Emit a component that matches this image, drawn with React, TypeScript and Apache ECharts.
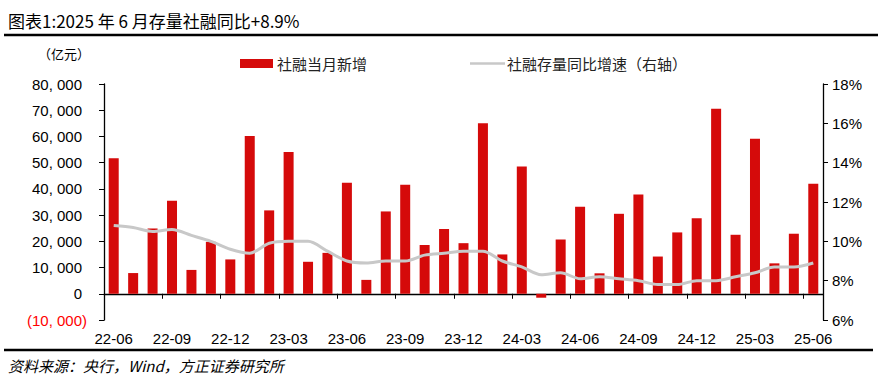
import React, { useEffect, useRef } from "react";
import * as echarts from "echarts";

const categories = [
  "22-06", "22-07", "22-08", "22-09", "22-10", "22-11", "22-12",
  "23-01", "23-02", "23-03", "23-04", "23-05", "23-06", "23-07", "23-08", "23-09", "23-10", "23-11", "23-12",
  "24-01", "24-02", "24-03", "24-04", "24-05", "24-06", "24-07", "24-08", "24-09", "24-10", "24-11", "24-12",
  "25-01", "25-02", "25-03", "25-04", "25-05", "25-06",
];

const monthlyNew = [
  51700, 7900, 24900, 35500, 9100, 19800, 13100,
  60200, 31800, 54100, 12200, 15600, 42300, 5300, 31400, 41600, 18600, 24700, 19300,
  65000, 15000, 48500, -1500, 20700, 33200, 7800, 30500, 37900, 14200, 23400, 28800,
  70600, 22500, 59100, 11600, 22900, 42000,
];

const stockYoY = [
  10.8, 10.7, 10.5, 10.6, 10.3, 10.0, 9.6,
  9.4, 9.9, 10.0, 10.0, 9.5, 9.0, 8.9, 9.0, 9.0, 9.3, 9.4, 9.5,
  9.5, 9.0, 8.7, 8.3, 8.4, 8.1, 8.2, 8.1, 8.0, 7.8, 7.8, 8.0,
  8.0, 8.2, 8.4, 8.7, 8.7, 8.9,
];

const titleText = "图表1:2025 年 6 月存量社融同比+8.9%";
const unitText = "（亿元）";
const barName = "社融当月新增";
const lineName = "社融存量同比增速（右轴）";
const sourceText = "资料来源：央行，Wind，方正证券研究所";

const RED = "#D50A0A";
const GRAY = "#C8C8C8";
const CJK = "'Noto Sans CJK SC', sans-serif";
const LAT = "'Liberation Sans', Arial, sans-serif";

function fmtThousands(v: number): string {
  const s = String(Math.round(v));
  return s.replace(/\B(?=(\d{3})+(?!\d))/g, ", ");
}

export default function App() {
  const ref = useRef<HTMLDivElement>(null);
  useEffect(() => {
    if (!ref.current) return;
    const chart = echarts.init(ref.current, undefined, { renderer: "svg" });
    chart.setOption({
      animation: false,
      backgroundColor: "#ffffff",
      grid: { left: 104, right: 59, top: 84, bottom: 60, containLabel: false },
      xAxis: {
        type: "category",
        data: categories,
        boundaryGap: true,
        axisLine: { onZero: true, lineStyle: { color: "#000", width: 1.3 } },
        axisTick: { show: true, interval: 2, length: 5, lineStyle: { color: "#000" } },
        axisLabel: {
          interval: 2,
          margin: 11,
          color: "#000",
          fontFamily: LAT,
          fontSize: 15,
        },
        splitLine: { show: false },
      },
      yAxis: [
        {
          type: "value",
          min: -10000,
          max: 80000,
          interval: 10000,
          axisLine: { show: true, lineStyle: { color: "#000", width: 1.3 } },
          axisTick: { show: true, length: 5, lineStyle: { color: "#000" } },
          splitLine: { show: false },
          axisLabel: {
            margin: 17,
            fontFamily: LAT,
            fontSize: 15,
            color: "#000",
            formatter: (v: number) =>
              v < 0 ? `{neg|(${fmtThousands(-v)})}` : `{pos|${fmtThousands(v)}}`,
            rich: {
              neg: { color: "#FF0000", fontFamily: LAT, fontSize: 15 },
              pos: { color: "#000", fontFamily: LAT, fontSize: 15, padding: [0, 5, 0, 0] },
            },
          },
        },
        {
          type: "value",
          min: 6,
          max: 18,
          interval: 2,
          position: "right",
          axisLine: { show: true, lineStyle: { color: "#000", width: 1.3 } },
          axisTick: { show: true, length: 5, lineStyle: { color: "#000" } },
          splitLine: { show: false },
          axisLabel: {
            margin: 9,
            fontFamily: LAT,
            fontSize: 15,
            color: "#000",
            formatter: (v: number) => `${v}%`,
          },
        },
      ],
      series: [
        {
          name: barName,
          type: "bar",
          yAxisIndex: 0,
          data: monthlyNew,
          barWidth: 10,
          itemStyle: { color: RED },
          z: 2,
        },
        {
          name: lineName,
          type: "line",
          yAxisIndex: 1,
          data: stockYoY,
          smooth: 0.3,
          symbol: "none",
          lineStyle: { color: GRAY, width: 3 },
          z: 3,
        },
      ],
      graphic: [
        {
          type: "text",
          left: 8,
          top: 12,
          style: { text: titleText, fontFamily: CJK, fontSize: 17, fill: "#000" },
        },
        {
          type: "line",
          shape: { x1: 4, y1: 35, x2: 878, y2: 35 },
          style: { stroke: "#000", lineWidth: 2.5 },
        },
        {
          type: "text",
          left: 38,
          top: 47,
          style: { text: unitText, fontFamily: CJK, fontSize: 13, fill: "#000" },
        },
        {
          type: "rect",
          shape: { x: 240, y: 59, width: 33, height: 9 },
          style: { fill: RED },
        },
        {
          type: "text",
          left: 277,
          top: 56,
          style: { text: barName, fontFamily: CJK, fontSize: 15, fill: "#222" },
        },
        {
          type: "line",
          shape: { x1: 470, y1: 63.5, x2: 505, y2: 63.5 },
          style: { stroke: GRAY, lineWidth: 2.5 },
        },
        {
          type: "text",
          left: 507,
          top: 56,
          style: { text: lineName, fontFamily: CJK, fontSize: 15, fill: "#222" },
        },
        {
          type: "line",
          shape: { x1: 4, y1: 350, x2: 873, y2: 350 },
          style: { stroke: "#000", lineWidth: 2.5 },
        },
        {
          type: "text",
          left: 8,
          top: 358,
          style: {
            text: sourceText,
            fontFamily: CJK,
            fontSize: 15,
            fontStyle: "italic",
            fill: "#000",
          },
        },
      ],
    });
    return () => chart.dispose();
  }, []);
  return (
    <div
      ref={ref}
      style={{ position: "fixed", left: 0, top: 0, width: 882, height: 380, background: "#fff" }}
    />
  );
}
